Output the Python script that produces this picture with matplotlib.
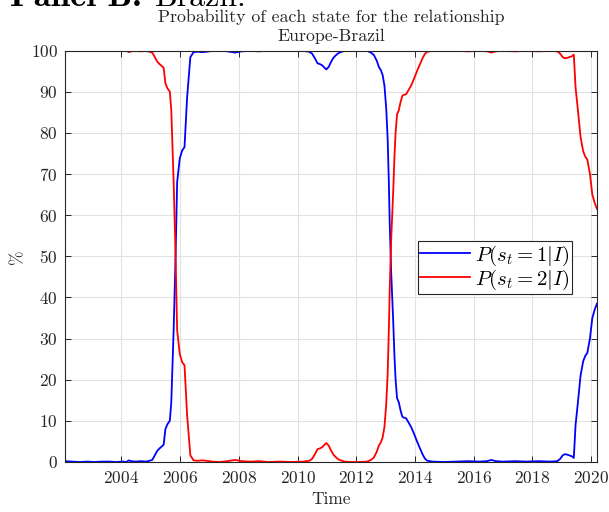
import matplotlib
matplotlib.use("Agg")
import matplotlib.pyplot as plt

plt.rcParams.update({
    "font.family": "serif",
    "font.serif": ["cmr10"],
    "mathtext.fontset": "cm",
    "axes.formatter.use_mathtext": True,
    "axes.unicode_minus": False,
})

dates = [2002.08, 2002.33, 2002.58, 2002.83, 2003.08, 2003.33, 2003.58, 2003.83,
         2004.08, 2004.17, 2004.25, 2004.33, 2004.50, 2004.67, 2004.83, 2004.96,
         2005.05, 2005.13, 2005.22, 2005.30, 2005.38, 2005.44, 2005.50, 2005.57,
         2005.65, 2005.70, 2005.78, 2005.84, 2005.90, 2005.99, 2006.07, 2006.15,
         2006.24, 2006.35, 2006.46, 2006.60, 2006.75, 2006.90, 2007.10, 2007.35,
         2007.60, 2007.88, 2008.10, 2008.40, 2008.70, 2009.00, 2009.40, 2009.80,
         2010.20, 2010.40, 2010.50, 2010.60, 2010.68, 2010.76, 2010.84, 2010.92,
         2010.98, 2011.06, 2011.14, 2011.22, 2011.30, 2011.38, 2011.47, 2011.60,
         2011.80, 2012.10, 2012.37, 2012.50, 2012.60, 2012.70, 2012.77, 2012.84,
         2012.90, 2012.96, 2013.02, 2013.07, 2013.11, 2013.14, 2013.19, 2013.26,
         2013.30, 2013.34, 2013.39, 2013.45, 2013.51, 2013.57, 2013.62, 2013.70,
         2013.79, 2013.87, 2013.96, 2014.07, 2014.16, 2014.25, 2014.34, 2014.42,
         2014.60, 2015.00, 2015.40, 2015.80, 2016.20, 2016.45, 2016.60, 2016.75,
         2017.00, 2017.40, 2017.80, 2018.20, 2018.60, 2018.85, 2018.95, 2019.03,
         2019.10, 2019.18, 2019.26, 2019.34, 2019.41, 2019.47, 2019.55, 2019.64,
         2019.73, 2019.80, 2019.87, 2019.96, 2020.04, 2020.12, 2020.20]

p_state1 = [0.2, 0.1, 0.0, 0.1, 0.0, 0.1, 0.1, 0.0,
            0.1, 0.0, 0.4, 0.2, 0.1, 0.2, 0.1, 0.3,
            0.5, 1.5, 2.7, 3.3, 3.8, 4.2, 8.0, 9.2,
            10.0, 14.5, 32.0, 48.0, 68.0, 73.8, 75.7, 76.5,
            88.7, 98.4, 99.6, 99.7, 99.6, 99.7, 99.9, 100.0,
            99.8, 99.5, 99.8, 99.9, 99.8, 100.0, 99.9, 100.0,
            99.9, 99.7, 99.2, 98.0, 96.9, 96.7, 96.4, 95.8,
            95.4, 96.0, 97.2, 98.2, 98.8, 99.3, 99.6, 99.9,
            100.0, 100.0, 99.9, 99.5, 98.9, 97.5, 96.0, 95.2,
            94.0, 91.5, 86.0, 78.5, 68.0, 58.0, 46.0, 34.0,
            26.0, 20.0, 15.5, 14.5, 12.5, 11.0, 10.8, 10.6,
            9.5, 8.5, 7.0, 5.0, 3.5, 2.0, 0.8, 0.3,
            0.1, 0.0, 0.1, 0.2, 0.1, 0.2, 0.5, 0.2,
            0.1, 0.2, 0.1, 0.2, 0.1, 0.2, 0.8, 1.6,
            1.9, 1.8, 1.6, 1.4, 1.0, 9.0, 14.5, 21.0,
            24.5, 25.8, 26.5, 30.0, 35.0, 37.0, 38.5]

p_state2 = [99.8, 99.9, 100.0, 99.9, 100.0, 99.9, 99.9, 100.0,
            99.9, 100.0, 99.6, 99.8, 99.9, 99.8, 99.9, 99.7,
            99.5, 98.5, 97.3, 96.7, 96.2, 95.8, 92.0, 90.8,
            90.0, 85.5, 68.0, 52.0, 32.0, 26.2, 24.3, 23.5,
            11.3, 1.6, 0.4, 0.3, 0.4, 0.3, 0.1, 0.0,
            0.2, 0.5, 0.2, 0.1, 0.2, 0.0, 0.1, 0.0,
            0.1, 0.3, 0.8, 2.0, 3.1, 3.3, 3.6, 4.2,
            4.6, 4.0, 2.8, 1.8, 1.2, 0.7, 0.4, 0.1,
            0.0, 0.0, 0.1, 0.5, 1.1, 2.5, 4.0, 4.8,
            6.0, 8.5, 14.0, 21.5, 32.0, 42.0, 54.0, 66.0,
            74.0, 80.0, 84.5, 85.5, 87.5, 89.0, 89.2, 89.4,
            90.5, 91.5, 93.0, 95.0, 96.5, 98.0, 99.2, 99.7,
            99.9, 100.0, 99.9, 99.8, 99.9, 99.8, 99.5, 99.8,
            99.9, 99.8, 99.9, 99.8, 99.9, 99.8, 99.2, 98.4,
            98.1, 98.2, 98.4, 98.6, 99.0, 91.0, 85.5, 79.0,
            75.5, 74.2, 73.5, 70.0, 65.0, 63.0, 61.5]

x_ticks = [2004, 2006, 2008, 2010, 2012, 2014, 2016, 2018, 2020]
y_ticks = [0, 10, 20, 30, 40, 50, 60, 70, 80, 90, 100]
labels = [r"$P(s_t=1|I)$", r"$P(s_t=2|I)$"]

W, H = 609, 512
fig = plt.figure(figsize=(W / 100, H / 100), dpi=100)
ax = fig.add_axes([65 / W, 1 - 462 / H, (597 - 65) / W, (462 - 50.5) / H])

dark = "#262626"
ax.plot(dates, p_state1, color=(0, 0, 1), lw=1.3, label=labels[0])
ax.plot(dates, p_state2, color=(1, 0, 0), lw=1.3, label=labels[1])

ax.set_xlim(dates[0], dates[-1])
ax.set_ylim(0, 100)
ax.set_xticks(x_ticks)
ax.set_yticks(y_ticks)
ax.grid(True, color="#e2e2e2", lw=0.8)
ax.set_axisbelow(True)
ax.tick_params(direction="in", top=True, right=True, length=4, width=0.7,
               colors=dark, labelsize=12.5)
ax.tick_params(axis="x", pad=6)
ax.tick_params(axis="y", pad=5)
for s in ax.spines.values():
    s.set_color(dark)
    s.set_linewidth(0.8)

ax.set_xlabel("Time", fontsize=12.5, color=dark, labelpad=4)
ax.set_ylabel("%", fontsize=12.5, color=dark, labelpad=4)
ax.set_title("Probability of each state for the relationship\nEurope-Brazil",
             fontsize=12.8, color=dark, pad=7.0, linespacing=1.3)

leg = ax.legend(loc="center right", bbox_to_anchor=((571.7 - 65) / 532, (462 - 267.5) / 411.5),
                fontsize=15, frameon=True, fancybox=False, framealpha=1,
                edgecolor=dark, handlelength=2.4, handletextpad=0.25,
                borderpad=0.1, labelspacing=0.0, borderaxespad=0)
leg.get_frame().set_linewidth(0.8)

fig.text(10 / W, 1 - 6 / H, "Panel B:", fontsize=25, family="cmb10",
         va="baseline", ha="left", color="black")
fig.text(155 / W, 1 - 6 / H, "Brazil.", fontsize=23, family="cmr10",
         va="baseline", ha="left", color="black")

fig.savefig("out.png", dpi=100)
